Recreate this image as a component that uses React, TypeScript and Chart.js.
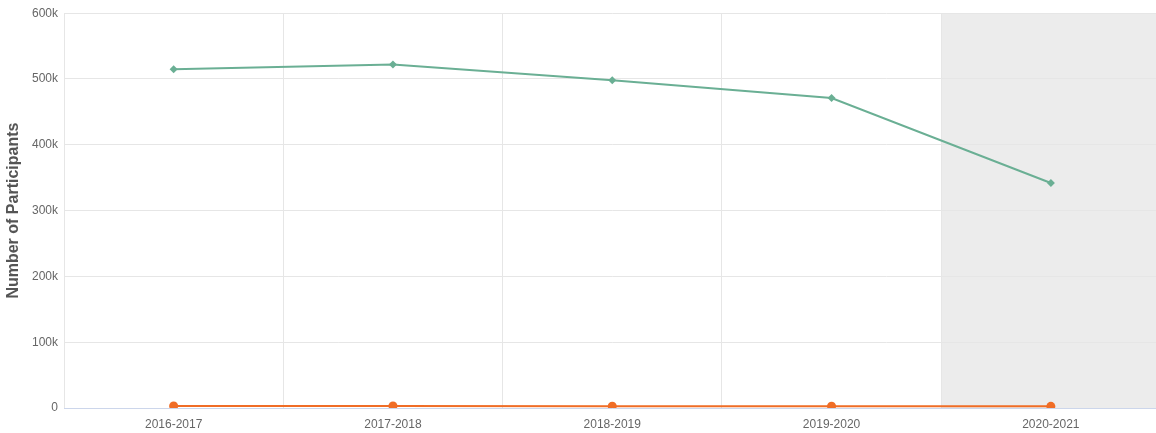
import React, { useEffect, useRef } from "react";
import { Chart, registerables } from "chart.js";

Chart.register(...registerables);

const categories = ["2016-2017", "2017-2018", "2018-2019", "2019-2020", "2020-2021"];
const participants = [515000, 522000, 498000, 471000, 342000];
const otherParticipants = [3000, 3000, 2800, 2600, 2500];
const yTickValues = [0, 100000, 200000, 300000, 400000, 500000, 600000];
const shadedFromIndex = 4;

const shadePlugin = {
  id: "shadeBand",
  beforeDraw(chart: any) {
    const x = chart.scales.x;
    const ca = chart.chartArea;
    if (!x || !ca) return;
    const half = (x.getPixelForValue(1) - x.getPixelForValue(0)) / 2;
    const start = x.getPixelForValue(shadedFromIndex) - half;
    const ctx = chart.ctx;
    ctx.save();
    ctx.fillStyle = "#ececec";
    ctx.fillRect(start, ca.top, ca.right - start, ca.bottom - ca.top);
    ctx.restore();
  },
};

export default function App() {
  const ref = useRef<HTMLCanvasElement | null>(null);

  useEffect(() => {
    document.body.style.margin = "0";
    if (!ref.current) return;
    const chart = new Chart(ref.current, {
      type: "line",
      data: {
        labels: categories,
        datasets: [
          {
            label: "Participants",
            data: participants,
            borderColor: "#6aaf94",
            backgroundColor: "#6aaf94",
            borderWidth: 2,
            pointStyle: "rectRot",
            pointRadius: 4,
            pointBorderWidth: 0,
            tension: 0,
          },
          {
            label: "Other",
            data: otherParticipants,
            borderColor: "#f06d26",
            backgroundColor: "#f06d26",
            borderWidth: 2,
            pointStyle: "circle",
            pointRadius: 4.5,
            pointBorderWidth: 0,
            tension: 0,
          },
        ],
      },
      options: {
        animation: false,
        responsive: false,
        devicePixelRatio: 1,
        layout: { padding: { top: 10, right: 0, left: 0, bottom: 0 } },
        plugins: {
          legend: { display: false },
          tooltip: { enabled: false },
        },
        scales: {
          x: {
            offset: true,
            grid: {
              offset: true,
              color: "#e6e6e6",
              drawTicks: false,
            },
            border: { color: "#ccd6eb", width: 1 },
            ticks: {
              color: "#666666",
              font: { family: "'Liberation Sans', Arial, sans-serif", size: 12 },
              padding: 9,
              maxRotation: 0,
            },
            afterFit(scale: any) {
              scale.height = 25;
            },
          },
          y: {
            min: 0,
            max: 600000,
            afterBuildTicks(scale: any) {
              scale.ticks = yTickValues.map((v) => ({ value: v }));
            },
            grid: { color: "#e6e6e6", drawTicks: false },
            border: { display: false },
            ticks: {
              color: "#666666",
              font: { family: "'Liberation Sans', Arial, sans-serif", size: 12 },
              padding: 6,
              callback: (v: any) => (v === 0 ? "0" : `${Number(v) / 1000}k`),
            },
            title: {
              display: true,
              text: "Number of Participants",
              color: "#555555",
              font: { family: "'Liberation Sans', Arial, sans-serif", size: 16, weight: "bold" },
              padding: { top: 4, bottom: 0 },
            },
            afterFit(scale: any) {
              scale.width = 64;
            },
          },
        },
      },
      plugins: [shadePlugin],
    } as any);
    return () => chart.destroy();
  }, []);

  return (
    <div style={{ position: "fixed", left: 0, top: 0, width: 1156, height: 433, overflow: "hidden", background: "#fff" }}>
      <canvas ref={ref} width={1165} height={433} style={{ display: "block", width: 1165, height: 433 }} />
    </div>
  );
}
